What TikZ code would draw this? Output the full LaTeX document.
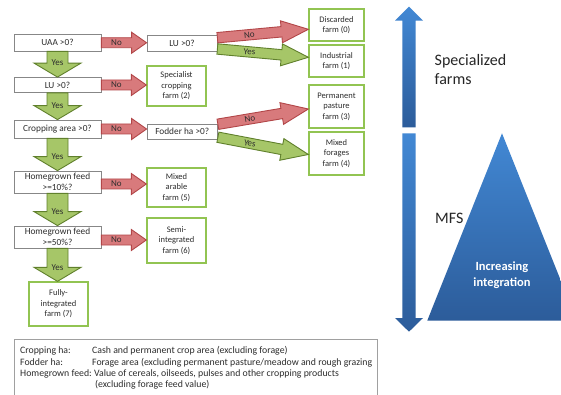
\documentclass[tikz,border=0pt]{standalone}
\usepackage{fontspec}
\setmainfont{Carlito}
\usetikzlibrary{calc}
\definecolor{qgray}{RGB}{135,135,135}
\definecolor{farmgreen}{RGB}{146,196,82}
\definecolor{redfill}{RGB}{216,122,124}
\definecolor{redline}{RGB}{178,70,72}
\definecolor{greenfill}{RGB}{166,198,104}
\definecolor{greenline}{RGB}{96,128,44}
\definecolor{blueA}{RGB}{66,136,212}
\definecolor{blueB}{RGB}{44,92,154}
\definecolor{txt}{RGB}{45,45,45}
\definecolor{leggray}{RGB}{160,160,160}

% block arrow: #1 style, #2 start, #3 tip, #4 shaft half width, #5 head half width, #6 head length, #7 label options, #8 label
\newcommand{\barrow}[8]{%
  \coordinate (bah) at ($(#3)!#6!(#2)$);
  \draw[#1] ($(#2)!#4!90:(#3)$) -- ($(bah)!#4!90:(#3)$) -- ($(bah)!#5!90:(#3)$) -- (#3)
    -- ($(bah)!#5!-90:(#3)$) -- ($(bah)!#4!-90:(#3)$) -- ($(#2)!#4!-90:(#3)$) -- cycle;
  \path (#2) -- (bah) node[#7] {#8};
}

\tikzset{
  qbox/.style={draw=qgray, fill=white, line width=0.8pt, inner sep=0pt, align=center,
    text=txt, font=\fontsize{9.3}{10.5}\selectfont},
  farm/.style={draw=farmgreen, fill=white, line width=1.3pt, inner sep=0pt, align=center,
    text=txt, font=\fontsize{8.5}{10.5}\selectfont},
  noarrow/.style={fill=redfill, draw=redline, line width=0.9pt, line join=miter},
  yesarrow/.style={fill=greenfill, draw=greenline, line width=0.9pt, line join=miter},
  lab/.style={inner sep=0pt, text=txt, font=\fontsize{9}{10}\selectfont},
  bigtxt/.style={inner sep=0pt, text=black!85, font=\fontsize{16}{19}\selectfont, align=left},
  legtxt/.style={inner sep=0pt, text=txt, font=\fontsize{9.8}{11.2}\selectfont, align=left}
}

\begin{document}
\begin{tikzpicture}[x=1pt,y=-1pt]
\useasboundingbox (0,0) rectangle (561,395);
\fill[white] (0,0) rectangle (561,395);

% question boxes
\node[qbox, minimum width=87pt, minimum height=16.5pt] (q1) at (57.5,42.75) {UAA >0?};
\node[qbox, minimum width=87pt, minimum height=15pt] (q2) at (57.5,85) {LU >0?};
\node[qbox, minimum width=87pt, minimum height=18pt] (q3) at (57.5,129) {Cropping area >0?};
\node[qbox, minimum width=87pt, minimum height=22pt] (q4) at (57.5,182) {Homegrown feed\\>=10\%?};
\node[qbox, minimum width=87pt, minimum height=22pt] (q5) at (57.5,237) {Homegrown feed\\>=50\%?};
\node[qbox, minimum width=70pt, minimum height=16pt] (lu) at (182,43) {LU >0?};
\node[qbox, minimum width=70.5pt, minimum height=14.5pt] (fod) at (182.25,131.75) {Fodder ha >0?};

% farm boxes
\node[farm, minimum width=55pt, minimum height=32pt] (f0) at (336.5,25) {Discarded\\farm (0)};
\node[farm, minimum width=55pt, minimum height=32pt] (f1) at (336.5,61) {Industrial\\farm (1)};
\node[farm, minimum width=59pt, minimum height=40pt] (f2) at (176.5,86) {Specialist\\cropping\\farm (2)};
\node[farm, minimum width=55pt, minimum height=43pt] (f3) at (336.5,106.5) {Permanent\\pasture\\farm (3)};
\node[farm, minimum width=55pt, minimum height=43pt] (f4) at (336.5,153.5) {Mixed\\forages\\farm (4)};
\node[farm, minimum width=59pt, minimum height=39pt] (f5) at (176.5,187.5) {Mixed\\arable\\farm (5)};
\node[farm, minimum width=59pt, minimum height=45pt] (f6) at (176.5,240.5) {Semi-\\integrated\\farm (6)};
\node[farm, minimum width=59pt, minimum height=44pt] (f7) at (58.5,304) {Fully-\\integrated\\farm (7)};

% vertical Yes arrows
\barrow{yesarrow}{q1.south}{q2.north}{10.5pt}{23.5pt}{14pt}{pos=1,lab}{Yes}
\barrow{yesarrow}{q2.south}{q3.north}{10.5pt}{23.5pt}{14pt}{pos=1,lab}{Yes}
\barrow{yesarrow}{q3.south}{q4.north}{10.5pt}{23.5pt}{14pt}{pos=1,lab}{Yes}
\barrow{yesarrow}{q4.south}{q5.north}{10.5pt}{23.5pt}{14pt}{pos=1,lab}{Yes}
\coordinate (e5) at (q5.south |- f7.north);
\barrow{yesarrow}{q5.south}{e5}{10.5pt}{23.5pt}{14pt}{pos=1,lab}{Yes}

% horizontal No arrows
\coordinate (h1) at (q1.east -| lu.west);
\coordinate (h2) at (q2.east -| f2.west);
\coordinate (h3) at (q3.east -| fod.west);
\coordinate (h4s) at ($(q4.east)+(0,2)$);
\coordinate (h4) at (h4s -| f5.west);
\coordinate (h5s) at ($(q5.east)+(0,3)$);
\coordinate (h5) at (h5s -| f6.west);
\barrow{noarrow}{q1.east}{h1}{5pt}{10.5pt}{15pt}{midway,lab}{No}
\barrow{noarrow}{q2.east}{h2}{5pt}{10.5pt}{15pt}{midway,lab}{No}
\barrow{noarrow}{q3.east}{h3}{5pt}{10.5pt}{15pt}{midway,lab}{No}
\barrow{noarrow}{h4s}{h4}{5pt}{10.5pt}{15pt}{midway,lab}{No}
\barrow{noarrow}{h5s}{h5}{5pt}{10.5pt}{15pt}{midway,lab}{No}

% diagonal arrows
\coordinate (d1s) at ($(lu.east)+(0,-5.3)$);
\coordinate (d1e) at ($(f0.west)+(0,4.3)$);
\coordinate (d2s) at ($(lu.east)+(0,6)$);
\coordinate (d2e) at ($(f1.west)+(0,-3.7)$);
\coordinate (d3s) at ($(fod.east)+(0,-7.5)$);
\coordinate (d3e) at ($(f3.west)+(0,2.5)$);
\coordinate (d4s) at ($(fod.east)+(0,5.5)$);
\coordinate (d4e) at ($(f4.west)+(0,1)$);
\barrow{noarrow}{d1s}{d1e}{5.2pt}{11pt}{27pt}{midway,sloped,lab}{No}
\barrow{yesarrow}{d2s}{d2e}{5.2pt}{11pt}{27pt}{midway,sloped,lab}{Yes}
\barrow{noarrow}{d3s}{d3e}{5.2pt}{11pt}{27pt}{midway,sloped,lab}{No}
\barrow{yesarrow}{d4s}{d4e}{5.2pt}{11pt}{27pt}{midway,sloped,lab}{Yes}

% right side
\begin{scope}
\clip (0,0) rectangle (561,395);
\shade[top color=blueA, bottom color=blueB]
  (402.3,127.5) -- (402.3,20.7) -- (395,20.7) -- (409,6.7) -- (423,20.7) -- (415.7,20.7) -- (415.7,127.5) -- cycle;
\shade[top color=blueA, bottom color=blueB]
  (402.3,133.3) -- (402.3,318) -- (395,318) -- (409,331.7) -- (423,318) -- (415.7,318) -- (415.7,133.3) -- cycle;
\shade[top color=blueA, bottom color=blueB]
  (502,133.3) -- (427.3,320.5) -- (576.7,320.5) -- cycle;

% legend
\node[draw=leggray, line width=0.8pt, fill=white, minimum width=363pt, minimum height=70pt, anchor=north west, inner sep=0pt] (legend) at (14,339) {};
\end{scope}
\node[legtxt, anchor=north west] (legtext) at (20,346.5) {%
\makebox[72pt][l]{Cropping ha:}Cash and permanent crop area (excluding forage)\\
\makebox[72pt][l]{Fodder ha:}Forage area (excluding permanent pasture/meadow and rough grazing\\
Homegrown feed:\ Value of cereals, oilseeds, pulses and other cropping products\\
\makebox[72pt][l]{}\hspace{3pt}(excluding forage feed value)};

\node[bigtxt, anchor=west] (spec) at (434.5,69.5) {Specialized\\farms};
\node[bigtxt, anchor=west] (mfs) at (435,218.5) {MFS};
\node[inner sep=0pt, text=white, align=center, font=\bfseries\fontsize{12.5}{16.5}\selectfont] (incr) at (502,275) {Increasing\\integration};
\end{tikzpicture}
\end{document}
